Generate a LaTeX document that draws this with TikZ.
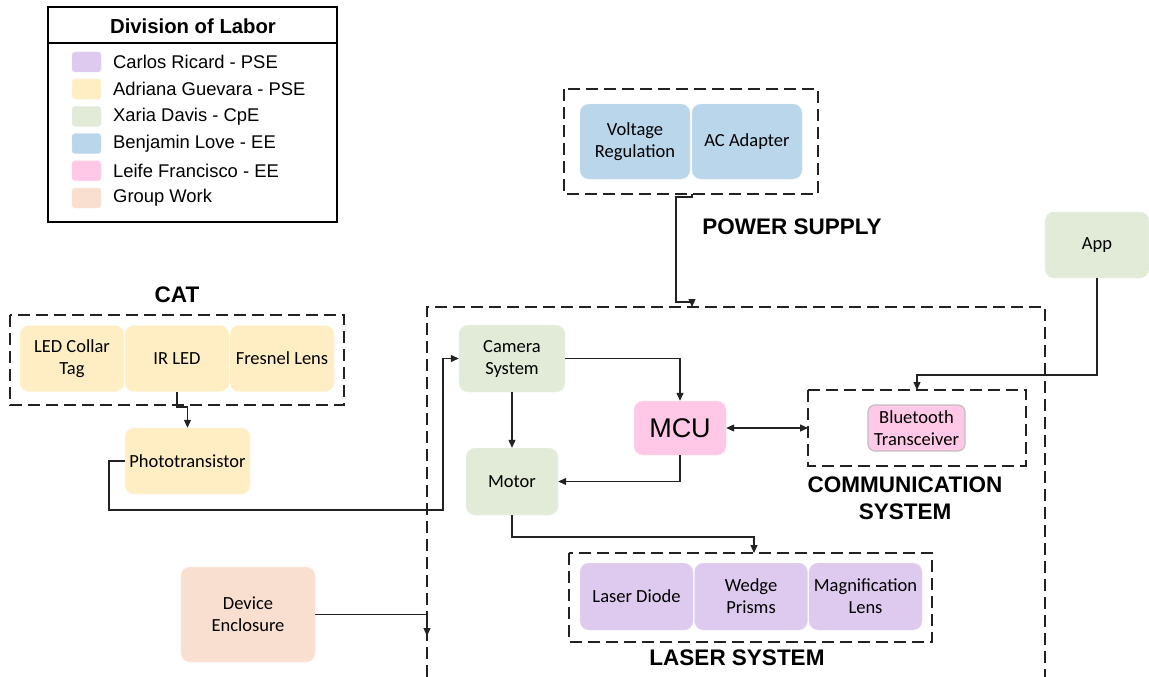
\documentclass[tikz,border=0pt]{standalone}
\usepackage{fontspec}
\setmainfont{Carlito}
\newfontfamily\arialf{Liberation Sans}
\usetikzlibrary{arrows.meta}
\definecolor{cpurple}{HTML}{DDCAEE}
\definecolor{cyellow}{HTML}{FFEEC4}
\definecolor{cgreen}{HTML}{E2EAD8}
\definecolor{cblue}{HTML}{B9D6EA}
\definecolor{cpink}{HTML}{FFC8E6}
\definecolor{cpeach}{HTML}{F9DFD0}
\definecolor{cline}{HTML}{222222}
\tikzset{
  bx/.style={rounded corners=9pt, align=center, inner sep=2pt, font=\fontsize{18.5}{22}\selectfont, text=black},
  dbox/.style={draw=cline, line width=2pt, dash pattern=on 12pt off 6pt},
  arr/.style={draw=cline, line width=1.1pt, -{Triangle[length=8pt,width=7pt]}},
  arrr/.style={draw=cline, line width=1.1pt, {Triangle[length=8pt,width=7pt]}-{Triangle[length=8pt,width=7pt]}},
  conn/.style={draw=cline, line width=1.1pt},
  head/.style={font=\arialf\bfseries\fontsize{22.5}{27}\selectfont, align=center},
  legt/.style={font=\arialf\fontsize{18.4}{21}\selectfont, anchor=west, inner sep=0pt},
  sw/.style={rounded corners=3pt, draw=#1!70!white, fill=#1}
}
\begin{document}
\begin{tikzpicture}[x=1pt,y=-1pt]
\useasboundingbox (0,0) rectangle (1149,677);
\fill[white] (0,0) rectangle (1149,677);

% Legend
\draw[line width=2pt] (48,7) rectangle (337,222);
\draw[line width=1.5pt] (48,43) -- (337,43);
\node[font=\arialf\bfseries\fontsize{20.3}{24}\selectfont] (legtitle) at (193,26) {Division of Labor};
\foreach \y/\c/\t [count=\i] in {62/cpurple/Carlos Ricard - PSE, 89.2/cyellow/Adriana Guevara - PSE, 116.4/cgreen/Xaria Davis - CpE, 143.6/cblue/Benjamin Love - EE, 170.8/cpink/Leife Francisco - EE, 198/cpeach/Group Work}{
  \draw[sw=\c] (72,\y-10) rectangle (101,\y+10);
  \node[legt] (leg\i) at (113,\y) {\t};
}

% Power supply
\node[bx, fill=cblue, draw=cblue!60!white, minimum width=110pt, minimum height=75pt] (vr) at (635,141.5) {Voltage\\Regulation};
\node[bx, fill=cblue, draw=cblue!60!white, minimum width=110pt, minimum height=75pt] (ac) at (747,141.5) {AC Adapter};
\draw[dbox] (564,89) rectangle (818,194);
\node[head] (pslabel) at (792,227) {POWER SUPPLY};
\coordinate (psb) at (692,194);
\coordinate (mtop) at (692,307);

% Main system box
\draw[dbox] (427,677) -- (427,307) -- (1045,307) -- (1045,677);

% Main nodes
\node[bx, fill=cgreen, draw=cgreen!60!white, minimum width=106pt, minimum height=67pt] (cam) at (512,358.5) {Camera\\System};
\node[bx, fill=cgreen, draw=cgreen!60!white, minimum width=92pt, minimum height=67pt] (motor) at (512,481.5) {Motor};
\node[bx, fill=cpink, draw=cpink!60!white, minimum width=92pt, minimum height=54pt, font=\arialf\fontsize{27}{30}\selectfont] (mcu) at (680,428) {MCU};

% App & communication
\node[bx, fill=cgreen, draw=cgreen!60!white, minimum width=104pt, minimum height=66pt] (app) at (1097,245) {App};
\node[bx, fill=cpink, draw=black!25, line width=1.2pt, minimum width=97pt, minimum height=46pt, rounded corners=7pt] (bt) at (916.5,428) {Bluetooth\\Transceiver};
\draw[dbox] (808,390) rectangle (1026,466);
\node[head] (commlabel) at (905,498) {COMMUNICATION\\SYSTEM};
\coordinate (cmtop) at (917,390);
\coordinate (cmleft) at (808,428);

% CAT
\node[bx, fill=cyellow, draw=cyellow!60!white, minimum width=104pt, minimum height=66pt] (collar) at (72,358.5) {LED Collar\\Tag};
\node[bx, fill=cyellow, draw=cyellow!60!white, minimum width=104pt, minimum height=66pt] (irled) at (177,358.5) {IR LED};
\node[bx, fill=cyellow, draw=cyellow!60!white, minimum width=104pt, minimum height=66pt] (fresnel) at (282,358.5) {Fresnel Lens};
\draw[dbox] (10,315) rectangle (344,405);
\node[head] (catlabel) at (177,295) {CAT};
\node[bx, fill=cyellow, draw=cyellow!60!white, minimum width=125pt, minimum height=66pt] (photo) at (187.5,461) {Phototransistor};

% Device enclosure
\node[bx, fill=cpeach, draw=cpeach!60!white, minimum width=134pt, minimum height=95pt] (de) at (248,614.5) {Device\\Enclosure};

% Laser system
\node[bx, fill=cpurple, draw=cpurple!60!white, minimum width=113pt, minimum height=67pt] (ld) at (636.5,596.5) {Laser Diode};
\node[bx, fill=cpurple, draw=cpurple!60!white, minimum width=113pt, minimum height=67pt] (wp) at (751,596.5) {Wedge\\Prisms};
\node[bx, fill=cpurple, draw=cpurple!60!white, minimum width=113pt, minimum height=67pt] (ml) at (865.5,596.5) {Magnification\\Lens};
\draw[dbox] (569,553) rectangle (932,642);
\node[head] (laslabel) at (737,658) {LASER SYSTEM};
\coordinate (lstop) at (754,553);

% Connectors
\draw[arr] (psb) -- ++(0,3) -| (676,302) -| (mtop);
\draw[arr] (cam.east) -| (mcu.north);
\draw[arr] (cam.south) -- (motor.north);
\draw[arr] (mcu.south) |- (motor.east);
\draw[arr] (motor.south) -- (512,537) -| (lstop);
\draw[arr] (photo.west) -- (109,461) |- (443,510) |- (cam.west);
\draw[arr] (irled.south) -- (177,407) -| (photo.north);
\draw[arr] (app.south) -- (1097,375) -| (cmtop);
\draw[arrr] (mcu.east) -- (cmleft);
\draw[arr] (de.east) -| (427,636);
\end{tikzpicture}
\end{document}
